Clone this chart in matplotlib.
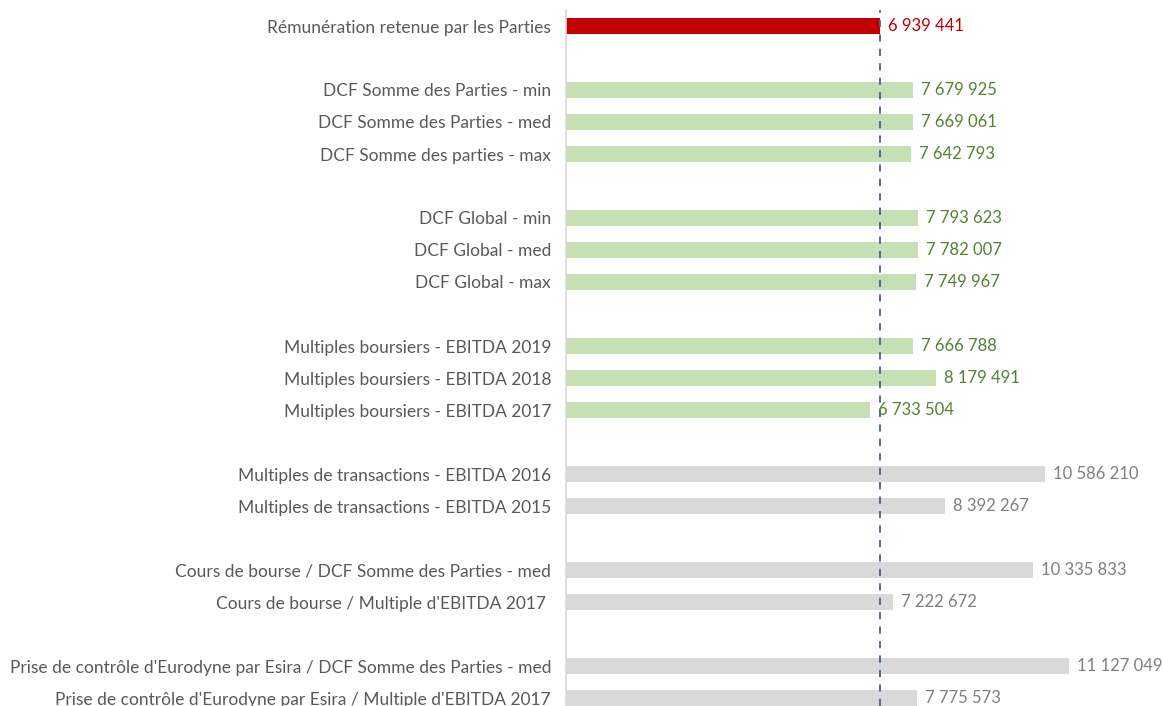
import matplotlib
matplotlib.use("Agg")
import matplotlib.pyplot as plt

labels = [
    "Rémunération retenue par les Parties",
    "DCF Somme des Parties - min",
    "DCF Somme des Parties - med",
    "DCF Somme des parties - max",
    "DCF Global - min",
    "DCF Global - med",
    "DCF Global - max",
    "Multiples boursiers - EBITDA 2019",
    "Multiples boursiers - EBITDA 2018",
    "Multiples boursiers - EBITDA 2017",
    "Multiples de transactions - EBITDA 2016",
    "Multiples de transactions - EBITDA 2015",
    "Cours de bourse / DCF Somme des Parties - med",
    "Cours de bourse / Multiple d'EBITDA 2017 ",
    "Prise de contrôle d'Eurodyne par Esira / DCF Somme des Parties - med",
    "Prise de contrôle d'Eurodyne par Esira / Multiple d'EBITDA 2017",
]
values = [6939441, 7679925, 7669061, 7642793, 7793623, 7782007, 7749967,
          7666788, 8179491, 6733504, 10586210, 8392267, 10335833, 7222672,
          11127049, 7775573]
groups = ["ref", "green", "green", "green", "green", "green", "green",
          "green", "green", "green", "gray", "gray", "gray", "gray", "gray", "gray"]
slots = [0, 2, 3, 4, 6, 7, 8, 10, 11, 12, 14, 15, 17, 18, 20, 21]
reference_value = 6939441

bar_colors = {"ref": "#C00000", "green": "#C5E0B4", "gray": "#D9D9D9"}
text_colors = {"ref": "#C00000", "green": "#538135", "gray": "#7F7F7F"}

plt.rcParams['font.family'] = ['Lato', 'DejaVu Sans']

W, H = 1163, 706
fig = plt.figure(figsize=(W / 100, H / 100), dpi=100)
ax_left = 566 / W
ax_top = 1 - 10 / H
ax = fig.add_axes([ax_left, 0, 1 - ax_left, ax_top])

xmax = 11127049 * (W - 566) / (1069 - 566)
ax.set_xlim(0, xmax)
ax.set_ylim(21 + 8 / 32, -0.5)

for s, v, g in zip(slots, values, groups):
    ax.barh(s, v, height=0.5, color=bar_colors[g], linewidth=0)
    ax.text(v + xmax * 8 / (W - 566), s, f"{v:,}".replace(",", " "),
            va="center", ha="left", fontsize=12, color=text_colors[g])

ax.axvline(reference_value, color="#44628F", linestyle=(0, (4, 4)), linewidth=1.3)

ax.set_yticks(slots)
ax.set_yticklabels(labels, fontsize=12.5, color="#595959")
ax.tick_params(axis="y", length=0, pad=10.8)
ax.set_xticks([])
for sp in ["top", "right", "bottom"]:
    ax.spines[sp].set_visible(False)
ax.spines["left"].set_color("#D9D9D9")
ax.spines["left"].set_linewidth(1.2)

fig.savefig("out.png", dpi=100)
